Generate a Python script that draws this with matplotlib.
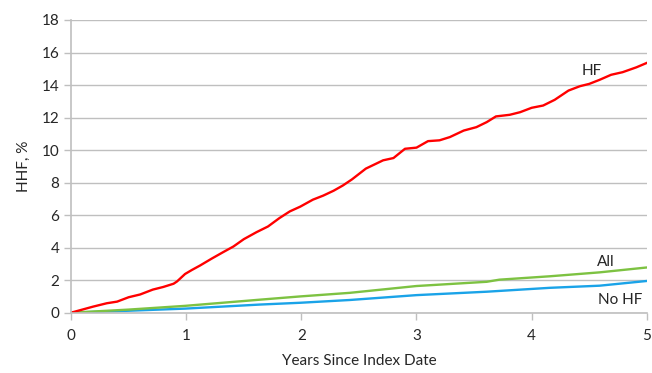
import matplotlib.pyplot as plt

plt.rcParams['font.family'] = ['Lato', 'DejaVu Sans']

# HF curve
years_hf = [0, 0.19, 0.31, 0.40, 0.50, 0.60, 0.71, 0.80, 0.89, 0.92, 0.99, 1.05, 1.12,
            1.22, 1.32, 1.41, 1.50, 1.61, 1.71, 1.81, 1.90, 1.99, 2.10, 2.19, 2.28,
            2.36, 2.44, 2.56, 2.71, 2.80, 2.90, 3.00, 3.10, 3.20, 3.29, 3.41, 3.52,
            3.61, 3.69, 3.81, 3.90, 4.00, 4.10, 4.20, 4.32, 4.42, 4.50, 4.59, 4.69,
            4.79, 4.91, 5.00]
hhf_hf = [0, 0.37, 0.58, 0.68, 0.95, 1.12, 1.42, 1.58, 1.78, 1.92, 2.38, 2.63, 2.90,
          3.32, 3.72, 4.07, 4.52, 4.95, 5.30, 5.82, 6.23, 6.52, 6.95, 7.20, 7.50,
          7.82, 8.20, 8.86, 9.37, 9.51, 10.08, 10.15, 10.55, 10.60, 10.80, 11.20, 11.41,
          11.72, 12.07, 12.17, 12.33, 12.60, 12.74, 13.09, 13.66, 13.93, 14.07, 14.32, 14.63,
          14.79, 15.09, 15.36]

# All
years_all = [0, 0.5, 0.99, 1.64, 1.99, 2.42, 3.00, 3.61, 3.72, 4.16, 4.59, 5.00]
hhf_all = [0, 0.19, 0.42, 0.80, 1.00, 1.22, 1.64, 1.90, 2.03, 2.24, 2.48, 2.78]

# No HF
years_nohf = [0, 0.5, 0.99, 1.64, 1.99, 2.42, 3.00, 3.61, 4.16, 4.59, 5.00]
hhf_nohf = [0, 0.12, 0.25, 0.50, 0.61, 0.78, 1.08, 1.29, 1.53, 1.66, 1.95]

fig = plt.figure(figsize=(6.52, 3.73), dpi=100)
ax = fig.add_axes([0.109, 0.1617, 0.883, 0.7847])

ax.plot(years_nohf, hhf_nohf, color='#1AA3E8', lw=1.7)
ax.plot(years_all, hhf_all, color='#7DC242', lw=1.7)
ax.plot(years_hf, hhf_hf, color='#FF0000', lw=1.7)

ax.set_xlim(0, 5)
ax.set_ylim(0, 18)
ax.set_yticks(range(0, 19, 2))
ax.set_xticks(range(0, 6))
ax.grid(axis='y', color='#BFBFBF', lw=1)
ax.set_axisbelow(True)
for s in ['top', 'right']:
    ax.spines[s].set_visible(False)
for s in ['left', 'bottom']:
    ax.spines[s].set_color('#BFBFBF')
    ax.spines[s].set_linewidth(1.2)
ax.tick_params(colors='#BFBFBF', labelcolor='#262626', labelsize=11, length=5, width=1)
ax.tick_params(axis='x', pad=7)

ax.set_xlabel('Years Since Index Date', fontsize=11, color='#262626', labelpad=8)
ax.set_ylabel('HHF, %', fontsize=11, color='#262626', labelpad=8)

ax.text(4.52, 14.85, 'HF', fontsize=11, color='#262626', ha='center', va='center')
ax.text(4.64, 3.13, 'All', fontsize=11, color='#262626', ha='center', va='center')
ax.text(4.77, 0.76, 'No HF', fontsize=11, color='#262626', ha='center', va='center')

fig.savefig('out.png', dpi=100)
